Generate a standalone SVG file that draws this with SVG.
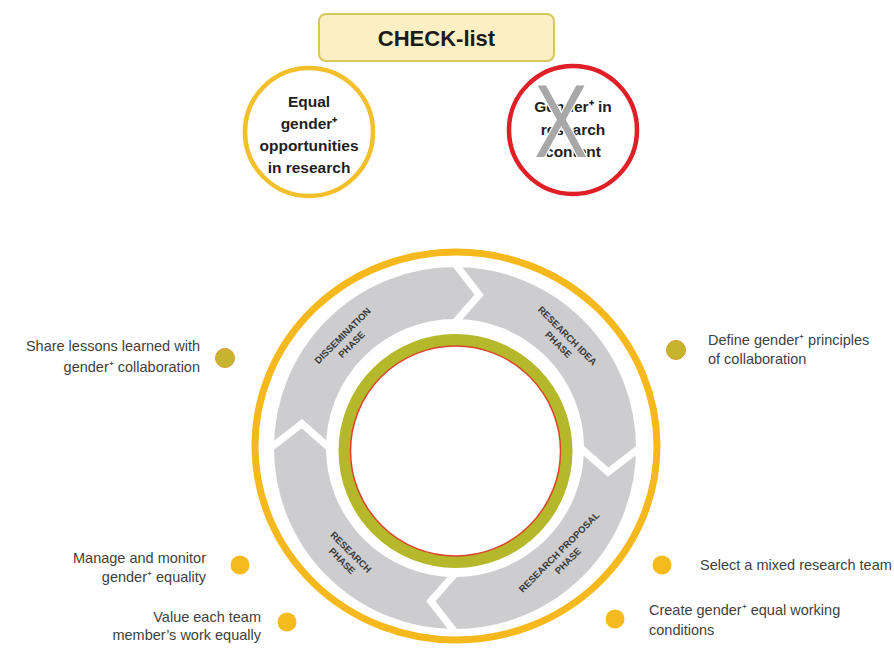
<svg xmlns="http://www.w3.org/2000/svg" width="894" height="648" viewBox="0 0 894 648">
  <defs>
    <style>
      .lbl { font-family: "Liberation Sans", Arial, sans-serif; font-size: 14.5px; fill: #3f3f3f; }
      .end { text-anchor: end; }
      .ctext { font-family: "Liberation Sans", Arial, sans-serif; font-size: 15.5px; font-weight: bold; fill: #1e1e1e; text-anchor: middle; }
      .ph { font-family: "Liberation Sans", Arial, sans-serif; font-size: 9.5px; font-weight: bold; fill: #3a3a3a; text-anchor: middle; }
      .seg { fill: #cdcdd0; stroke: #ffffff; stroke-width: 7; stroke-linejoin: miter; }
      .dot-y { fill: #f5bb1e; }
      .dot-o { fill: #c6b42e; stroke: #da9a2c; stroke-width: 1; }
    </style>
  </defs>
  <rect width="894" height="648" fill="#ffffff"/>

  <g id="title">
    <rect x="319" y="14" width="235" height="47" rx="7" fill="#fcefc4" stroke="#d8c75c" stroke-width="2"/>
    <text x="436.5" y="46" font-family="Liberation Sans, Arial, sans-serif" font-size="22" font-weight="bold" fill="#1b1b1b" text-anchor="middle">CHECK-list</text>
  </g>

  <g id="equal-opportunities">
    <circle cx="309" cy="132" r="64" fill="#ffffff" stroke="#f3bf2b" stroke-width="4.5"/>
    <text class="ctext" x="309" y="107">Equal</text>
    <text class="ctext" x="309" y="129">gender⁺</text>
    <text class="ctext" x="309" y="151">opportunities</text>
    <text class="ctext" x="309" y="173">in research</text>
  </g>

  <g id="gender-content">
    <circle cx="573" cy="130" r="64" fill="#ffffff" stroke="#e11f26" stroke-width="4.5"/>
    <text class="ctext" x="573" y="112">Gender⁺ in</text>
    <text class="ctext" x="573" y="134.5">research</text>
    <text class="ctext" x="573" y="157">content</text>
    <text transform="translate(561,157) scale(0.78,1)" x="0" y="0" font-family="Liberation Sans, Arial, sans-serif" font-size="103" fill="#a8a8a8" stroke="#ffffff" stroke-width="3" paint-order="stroke" text-anchor="middle">X</text>
  </g>

  <g id="cycle">
    <ellipse cx="456" cy="446" rx="201" ry="194" fill="none" stroke="#f5b91e" stroke-width="7"/>

    <g id="dissemination-phase">
      <path class="seg" d="M 270.5,448 A 184.5 184.5 0 0 1 455,263.5 L 479.25,294.91 L 455,322.5 A 125.5 125.5 0 0 0 329.5,448 L 301.91,423.75 Z"/>
      <text class="ph" transform="translate(346.8,339.8) rotate(-45)"><tspan x="0" y="-2.5">DISSEMINATION</tspan><tspan x="0" y="10">PHASE</tspan></text>
    </g>
    <g id="research-idea-phase">
      <path class="seg" d="M 455,263.5 A 184.5 184.5 0 0 1 639.5,448 L 608.09,472.25 L 580.5,448 A 125.5 125.5 0 0 0 455,322.5 L 479.25,294.91 Z"/>
      <text class="ph" transform="translate(563.2,339.8) rotate(45)"><tspan x="0" y="-2.5">RESEARCH IDEA</tspan><tspan x="0" y="10">PHASE</tspan></text>
    </g>
    <g id="research-proposal-phase">
      <path class="seg" d="M 639.5,448 A 184.5 184.5 0 0 1 455,632.5 L 430.75,601.09 L 455,573.5 A 125.5 125.5 0 0 0 580.5,448 L 608.09,472.25 Z"/>
      <text class="ph" transform="translate(563.2,556.2) rotate(-45)"><tspan x="0" y="-2.5">RESEARCH PROPOSAL</tspan><tspan x="0" y="10">PHASE</tspan></text>
    </g>
    <g id="research-phase">
      <path class="seg" d="M 455,632.5 A 184.5 184.5 0 0 1 270.5,448 L 301.91,423.75 L 329.5,448 A 125.5 125.5 0 0 0 455,573.5 L 430.75,601.09 Z"/>
      <text class="ph" transform="translate(346.8,556.2) rotate(45)"><tspan x="0" y="-2.5">RESEARCH</tspan><tspan x="0" y="10">PHASE</tspan></text>
    </g>

    <g id="core">
      <circle cx="455.5" cy="451" r="111" fill="none" stroke="#b5b82a" stroke-width="12"/>
      <circle cx="455.5" cy="451" r="105" fill="none" stroke="#d9452b" stroke-width="1.5"/>
    </g>
  </g>

  <g id="item-share-lessons">
    <circle class="dot-o" cx="225" cy="358" r="9.5"/>
    <text class="lbl end" x="200" y="351">Share lessons learned with</text>
    <text class="lbl end" x="200" y="372">gender⁺ collaboration</text>
  </g>
  <g id="item-define-principles">
    <circle class="dot-o" cx="676" cy="350" r="9.5"/>
    <text class="lbl" x="708" y="345">Define gender⁺ principles</text>
    <text class="lbl" x="708" y="364">of collaboration</text>
  </g>
  <g id="item-manage-monitor">
    <circle class="dot-y" cx="240" cy="565" r="9.5"/>
    <text class="lbl end" x="206" y="563">Manage and monitor</text>
    <text class="lbl end" x="206" y="582">gender⁺ equality</text>
  </g>
  <g id="item-value-work">
    <circle class="dot-y" cx="287" cy="622" r="9.5"/>
    <text class="lbl end" x="261" y="622">Value each team</text>
    <text class="lbl end" x="261" y="640">member’s work equally</text>
  </g>
  <g id="item-mixed-team">
    <circle class="dot-y" cx="662" cy="565" r="9.5"/>
    <text class="lbl" x="700" y="570">Select a mixed research team</text>
  </g>
  <g id="item-working-conditions">
    <circle class="dot-y" cx="615" cy="619" r="9.5"/>
    <text class="lbl" x="649" y="615">Create gender⁺ equal working</text>
    <text class="lbl" x="649" y="635">conditions</text>
  </g>

  <g id="connectors"></g>
</svg>
